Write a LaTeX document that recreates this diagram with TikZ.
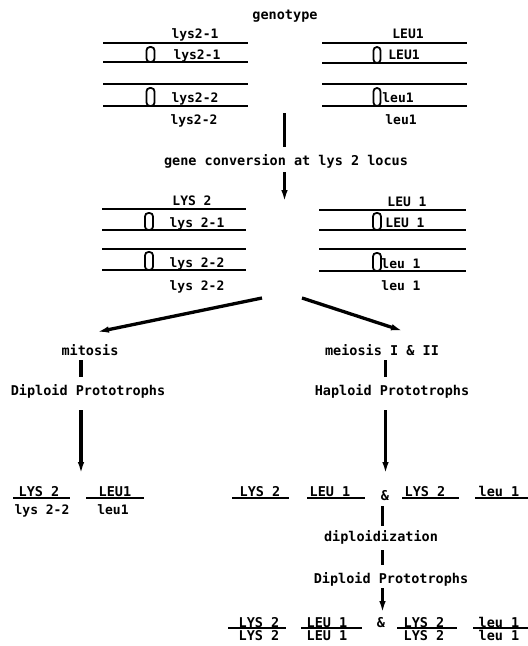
\documentclass[tikz,border=0pt]{standalone}
\usepackage{fontspec}
\setmainfont{DejaVu Sans Mono}
\usetikzlibrary{arrows.meta}
\begin{document}
\begin{tikzpicture}[x=1pt,y=-1pt,
  lbl/.style={inner sep=0pt, anchor=base, text height=10pt, text depth=3pt,
              font=\fontsize{13.5}{16}\selectfont\bfseries},
  gene/.style={lbl, font=\fontsize{13}{16}\selectfont\bfseries},
  chrom/.style={line width=2.8pt},
  cen/.style={draw, line width=1.8pt, fill=white, rounded corners=3.4pt},
  stem/.style={line width=3.3pt},
  flow/.style={line width=3.3pt, -{Latex[length=12pt,width=6.5pt]}},
  uline/.style={line width=2.8pt},
]
\fill[white] (0,0) rectangle (528,646);
\useasboundingbox (0,0) rectangle (528,646);

% ---------- parental genotype ----------
\node[lbl] (geno) at (285,19) {genotype};

% lys2 homologues
\foreach \y in {43,62,84,106} \draw[chrom] (103,\y) -- (248,\y);
\draw[cen] (146.5,47) rectangle (154.5,62);
\draw[cen] (146.5,88) rectangle (154.5,106);
\node[gene] (l1a) at (195,38)  {lys2-1};
\node[gene] (l1b) at (197,59)  {lys2-1};
\node[gene] (l2a) at (195,102) {lys2-2};
\node[gene] (l2b) at (194,124) {lys2-2};

% leu1 homologues
\foreach \y in {43,63,84,106} \draw[chrom] (322,\y) -- (467,\y);
\draw[cen] (373.5,47) rectangle (380.5,63);
\draw[cen] (373.5,88) rectangle (380.5,106);
\node[gene] (e1a) at (408,38)  {LEU1};
\node[gene] (e1b) at (404,59)  {LEU1};
\node[gene] (e2a) at (398,102) {leu1};
\node[gene] (e2b) at (401,124) {leu1};

% ---------- gene conversion ----------
\coordinate (t0) at (284.5,113);
\coordinate (t1) at (284.5,202);
\node[lbl] (gc) at (286,165) {gene conversion at lys 2  locus};
\draw[stem, shorten >=8pt] (t0) -- (t0 |- gc.north);
\draw[flow, shorten <=4pt] (t0 |- gc.south) -- (t1);

% converted lys2 homologues
\foreach \y in {209,230,249,270} \draw[chrom] (102,\y) -- (246,\y);
\draw[cen] (145,213) rectangle (153,230);
\draw[cen] (145,252) rectangle (153,270);
\node[gene] (m1a) at (192,205) {LYS 2};
\node[gene] (m1b) at (197,227) {lys 2-1};
\node[gene] (m2a) at (197,267) {lys 2-2};
\node[gene] (m2b) at (197,290) {lys 2-2};

% leu1 homologues after conversion
\foreach \y in {210,230,249,271} \draw[chrom] (319,\y) -- (466,\y);
\draw[cen] (373,213) rectangle (381,230);
\draw[cen] (373,253) rectangle (381,271);
\node[gene] (n1a) at (407,206) {LEU 1};
\node[gene] (n1b) at (405,227) {LEU 1};
\node[gene] (n2a) at (401,268) {leu 1};
\node[gene] (n2b) at (401,290) {leu 1};

% ---------- branching ----------
\coordinate (sL) at (262,298);
\coordinate (eL) at (97,332);
\coordinate (sR) at (302,298);
\coordinate (eR) at (403,331);
\draw[flow] (sL) -- (eL);
\draw[flow] (sR) -- (eR);

% mitotic branch
\coordinate (cL) at (81,0);
\node[lbl] (mit) at (90,355) {mitosis};
\node[lbl] (dipL) at (88,395) {Diploid  Prototrophs};
\draw[stem, shorten <=2pt, shorten >=8pt] (cL |- mit.south) -- (cL |- dipL.north);
\coordinate (aL) at (81,474);
\draw[flow, shorten <=12pt] (cL |- dipL.south) -- (aL);

\draw[uline] (13,498) -- (70,498);
\draw[uline] (86,498) -- (144,498);
\node[lbl]  (mA) at (39,496)  {LYS 2};
\node[gene] (mB) at (42,514)  {lys 2-2};
\node[lbl]  (mC) at (115,496) {LEU1};
\node[gene] (mD) at (113,514) {leu1};

% meiotic branch
\coordinate (cR) at (385.5,0);
\node[lbl] (mei) at (382,355) {meiosis I \& II};
\node[lbl] (hap) at (392,395) {Haploid  Prototrophs};
\draw[stem, shorten <=2pt, shorten >=8pt] (cR |- mei.south) -- (cR |- hap.north);
\coordinate (aR) at (385.5,474);
\draw[flow, shorten <=12pt] (cR |- hap.south) -- (aR);

% haploid segregants
\draw[uline] (232,498) -- (289,498);
\draw[uline] (307,498) -- (365,498);
\draw[uline] (402,498) -- (459,498);
\draw[uline] (475,498) -- (528,498);
\node[lbl] (h1) at (260,496) {LYS 2};
\node[lbl] (h2) at (330,496) {LEU 1};
\node[lbl] (amp1) at (385,500) {\&};
\node[lbl] (h3) at (425,496) {LYS 2};
\node[lbl] (h4) at (499,496) {leu 1};

% diploidization
\coordinate (cD) at (382.5,0);
\node[lbl] (dz) at (381,541) {diploidization};
\node[lbl] (dipR) at (391,583) {Diploid  Prototrophs};
\draw[stem, shorten <=3pt, shorten >=5pt] (cD |- amp1.south) -- (cD |- dz.north);
\draw[stem, shorten <=6pt, shorten >=8pt] (cD |- dz.south) -- (cD |- dipR.north);
\coordinate (aD) at (382.5,613);
\draw[flow, shorten <=2pt] (cD |- dipR.south) -- (aD);

% homozygous diploids
\draw[uline] (228,628) -- (286,628);
\draw[uline] (301,628) -- (362,628);
\draw[uline] (397,628) -- (457,628);
\draw[uline] (473,628) -- (528,628);
\node[lbl] (d1a) at (259,627) {LYS 2};
\node[lbl] (d1b) at (259,640) {LYS 2};
\node[lbl] (d2a) at (327,627) {LEU 1};
\node[lbl] (d2b) at (327,640) {LEU 1};
\node[lbl] (amp2) at (381,627) {\&};
\node[lbl] (d3a) at (424,627) {LYS 2};
\node[lbl] (d3b) at (424,640) {LYS 2};
\node[lbl] (d4a) at (499,627) {leu 1};
\node[lbl] (d4b) at (499,640) {leu 1};
\end{tikzpicture}
\end{document}
